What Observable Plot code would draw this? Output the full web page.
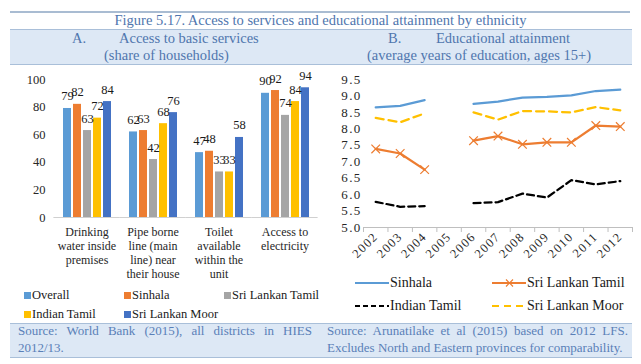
<!DOCTYPE html>
<html>
<head>
<meta charset="utf-8">
<script src="https://cdn.jsdelivr.net/npm/d3@7"></script>
<script src="https://cdn.jsdelivr.net/npm/@observablehq/plot@0.6"></script>
<style>
  html, body { margin: 0; padding: 0; background: #fff; }
  #wrap { position: relative; width: 641px; height: 364px; overflow: hidden; font-family: "Liberation Serif", "Times New Roman", serif; }
  .abs { position: absolute; white-space: nowrap; }
  .blue { color: #4f76ae; }
  .band { position: absolute; background: #dde8f5; border-top: 1px solid #a9bfd9; border-bottom: 1.5px solid #a9bfd9; }
  .t14 { font-size: 14.5px; line-height: 18px; }
  .leg { font-size: 12.5px; line-height: 14px; color: #1a1a1a; }
  .sq { display: inline-block; width: 7px; height: 7px; margin-right: 1px; vertical-align: 0px; }
  .src { position: absolute; font-size: 13px; line-height: 17px; text-align: justify; color: #5a80b8; white-space: normal; }
  #plotA, #plotB { position: absolute; }
</style>
</head>
<body>
<div id="wrap">
  <div class="abs" style="left:10px;top:11px;width:620px;height:1.5px;background:#a9bcd2;"></div>
  <div class="abs blue t14" style="left:0;width:641px;top:11px;text-align:center;">Figure 5.17. Access to services and educational attainment by ethnicity</div>
  <div class="band" style="left:10px;top:29px;width:622px;height:34px;"></div>
  <div class="abs blue t14" style="left:72px;top:29px;">A.</div>
  <div class="abs blue t14" style="left:119px;top:29px;">Access to basic services</div>
  <div class="abs blue t14" style="left:104px;top:46px;">(share of households)</div>
  <div class="abs blue t14" style="left:388px;top:29px;">B.</div>
  <div class="abs blue t14" style="left:436px;top:29px;">Educational attainment</div>
  <div class="abs blue t14" style="left:367px;top:46px;">(average years of education, ages 15+)</div>

  <div id="plotA" style="left:0;top:65px;"></div>
  <div id="plotB" style="left:320px;top:65px;"></div>

  <div id="legA"></div>
  <div id="legB"></div>

  <div class="band" style="left:10px;top:323px;width:622px;height:33px;"></div>
  <div class="src" style="left:18px;top:322px;width:294px;">Source: World Bank (2015), all districts in HIES 2012/13.</div>
  <div class="src" style="left:327px;top:322px;width:301px;">Source: Arunatilake et al (2015) based on 2012 LFS. Excludes North and Eastern provinces for comparability.</div>
</div>
<script>
// ---------- Panel A data ----------
const categoriesA = ["Drinking water inside premises", "Pipe borne line (main line) near their house", "Toilet available within the unit", "Access to electricity"];
const categoryLabelsA = ["Drinking\nwater inside\npremises", "Pipe borne\nline (main\nline) near\ntheir house", "Toilet\navailable\nwithin the\nunit", "Access to\nelectricity"];
const seriesA = ["Overall", "Sinhala", "Sri Lankan Tamil", "Indian Tamil", "Sri Lankan Moor"];
const colorsA = ["#5b9bd5", "#ed7d31", "#a5a5a5", "#ffc000", "#4472c4"];
const overall = [79, 62, 47, 90];
const sinhala = [82, 63, 48, 92];
const slTamil = [63, 42, 33, 74];
const indianTamil = [72, 68, 33, 84];
const slMoor = [84, 76, 58, 94];
const yTicksA = [0, 20, 40, 60, 80, 100];

// ---------- Panel B data ----------
const years = [2002, 2003, 2004, 2005, 2006, 2007, 2008, 2009, 2010, 2011, 2012];
const yearBounds = [2001.5, 2002.5, 2003.5, 2004.5, 2005.5, 2006.5, 2007.5, 2008.5, 2009.5, 2010.5, 2011.5, 2012.5];
const seriesB = ["Sinhala", "Sri Lankan Tamil", "Indian Tamil", "Sri Lankan Moor"];
const eduSinhala = [8.65, 8.70, 8.87, null, 8.76, 8.83, 8.95, 8.97, 9.02, 9.15, 9.19];
const eduSLTamil = [7.39, 7.25, 6.76, null, 7.64, 7.78, 7.53, 7.59, 7.59, 8.10, 8.07];
const eduIndianTamil = [5.78, 5.63, 5.65, null, 5.74, 5.77, 6.03, 5.91, 6.44, 6.31, 6.41];
const eduSLMoor = [8.33, 8.20, 8.47, null, 8.50, 8.28, 8.54, 8.53, 8.50, 8.66, 8.56];
const yTicksB = [5.0, 5.5, 6.0, 6.5, 7.0, 7.5, 8.0, 8.5, 9.0, 9.5];

// ---------- Panel A ----------
const valuesA = [overall, sinhala, slTamil, indianTamil, slMoor];
const rowsA = [];
categoriesA.forEach((c, i) => seriesA.forEach((s, j) => rowsA.push({category: c, series: s, value: valuesA[j][i]})));

const chartA = Plot.plot({
  width: 320, height: 215,
  marginLeft: 53, marginRight: 3, marginTop: 14, marginBottom: 63,
  style: {fontFamily: "Liberation Serif, serif", fontSize: "12px", color: "#262626", background: "transparent", overflow: "visible"},
  fx: {domain: categoriesA, paddingInner: 0.23, paddingOuter: 0.115, label: null},
  x: {domain: seriesA, axis: null, paddingInner: 0.25, paddingOuter: 0.1},
  y: {domain: [0, 100], label: null, axis: null},
  color: {domain: seriesA, range: colorsA},
  marks: [
    Plot.axisY({ticks: yTicksA, tickSize: 0, tickPadding: 16, fontSize: 12.5, label: null, fill: "#262626"}),
    Plot.axisFx({anchor: "bottom", tickSize: 0, tickPadding: 9, fontSize: 12, lineHeight: 1.15, label: null,
      tickFormat: d => categoryLabelsA[categoriesA.indexOf(d)], fill: "#262626"}),
    Plot.ruleY([0], {stroke: "#d0d0d0", strokeWidth: 1, insetLeft: -7.6, insetRight: -7.6}),
    Plot.barY(rowsA, {fx: "category", x: "series", y: "value", fill: "series"}),
    Plot.text(rowsA, {fx: "category", x: "series", y: "value", text: d => String(d.value), lineAnchor: "bottom", dy: -8, fontSize: 12.5, fill: "#1a1a1a"})
  ]
});
document.getElementById("plotA").append(chartA);

// ---------- Panel B ----------
const valuesB = [eduSinhala, eduSLTamil, eduIndianTamil, eduSLMoor];
const rowsB = (j) => years.map((yr, i) => ({year: yr, value: valuesB[j][i]}));
const chartB = Plot.plot({
  width: 321, height: 200,
  marginLeft: 43, marginRight: 9, marginTop: 14, marginBottom: 38,
  style: {fontFamily: "Liberation Serif, serif", fontSize: "13px", color: "#262626", background: "transparent", overflow: "visible", letterSpacing: "1.3px"},
  x: {domain: [2001.5, 2012.5], axis: null},
  y: {domain: [5, 9.5], axis: null},
  marks: [
    Plot.axisY({ticks: yTicksB, tickSize: 0, tickPadding: 2, fontSize: 13, tickFormat: d => d.toFixed(1), label: null, fill: "#262626"}),
    Plot.axisX({ticks: years, tickSize: 0, tickPadding: 7, tickRotate: -45, fontSize: 12.5, tickFormat: d => String(d), label: null, fill: "#262626"}),
    Plot.axisX({ticks: yearBounds, tickSize: 5, tickFormat: () => "", label: null, stroke: "#bfbfbf"}),
    Plot.ruleY([5], {stroke: "#bfbfbf", strokeWidth: 1}),
    Plot.line(rowsB(0), {x: "year", y: "value", stroke: "#5b9bd5", strokeWidth: 2.25}),
    Plot.line(rowsB(3), {x: "year", y: "value", stroke: "#ffc000", strokeWidth: 2.25, strokeDasharray: "8,5"}),
    Plot.line(rowsB(1), {x: "year", y: "value", stroke: "#ed7d31", strokeWidth: 2.25}),
    Plot.dot(rowsB(1).filter(d => d.value != null), {x: "year", y: "value", symbol: "times", r: 4, stroke: "#ed7d31", strokeWidth: 1.2}),
    Plot.line(rowsB(2), {x: "year", y: "value", stroke: "#000000", strokeWidth: 2.25, strokeDasharray: "7,4"})
  ]
});
document.getElementById("plotB").append(chartB);

// ---------- Legend A ----------
const legAPos = [[24, 288], [124, 288], [224, 288], [24, 307], [124, 307]];
const legA = document.getElementById("legA");
seriesA.forEach((s, j) => {
  const el = document.createElement("div");
  el.className = "abs leg";
  el.style.left = legAPos[j][0] + "px";
  el.style.top = legAPos[j][1] + "px";
  el.innerHTML = `<span class="sq" style="background:${colorsA[j]}"></span>${s}`;
  legA.append(el);
});

// ---------- Legend B ----------
const legBItems = [
  {x: 355, y: 283, color: "#5b9bd5", dash: null, marker: false},
  {x: 492, y: 283, color: "#ed7d31", dash: null, marker: true},
  {x: 355, y: 306, color: "#000000", dash: "5,3", marker: false},
  {x: 492, y: 306, color: "#ffc000", dash: "7,5", marker: false}
];
const legB = document.getElementById("legB");
seriesB.forEach((s, j) => {
  const it = legBItems[j];
  const el = document.createElement("div");
  el.className = "abs";
  el.style.left = it.x + "px";
  el.style.top = (it.y - 8) + "px";
  el.style.height = "16px";
  el.innerHTML = `<svg width="36" height="16" style="position:absolute;left:0;top:0">
      <line x1="0" x2="34" y1="8" y2="8" stroke="${it.color}" stroke-width="2" ${it.dash ? `stroke-dasharray="${it.dash}"` : ""}/>
      ${it.marker ? `<path d="M14,4.5L21,11.5M21,4.5L14,11.5" stroke="${it.color}" stroke-width="1.2"/>` : ""}
    </svg><span style="position:absolute;left:35px;top:0;font-size:14px;line-height:16px;color:#1a1a1a;white-space:nowrap;">${s}</span>`;
  legB.append(el);
});
</script>
</body>
</html>
